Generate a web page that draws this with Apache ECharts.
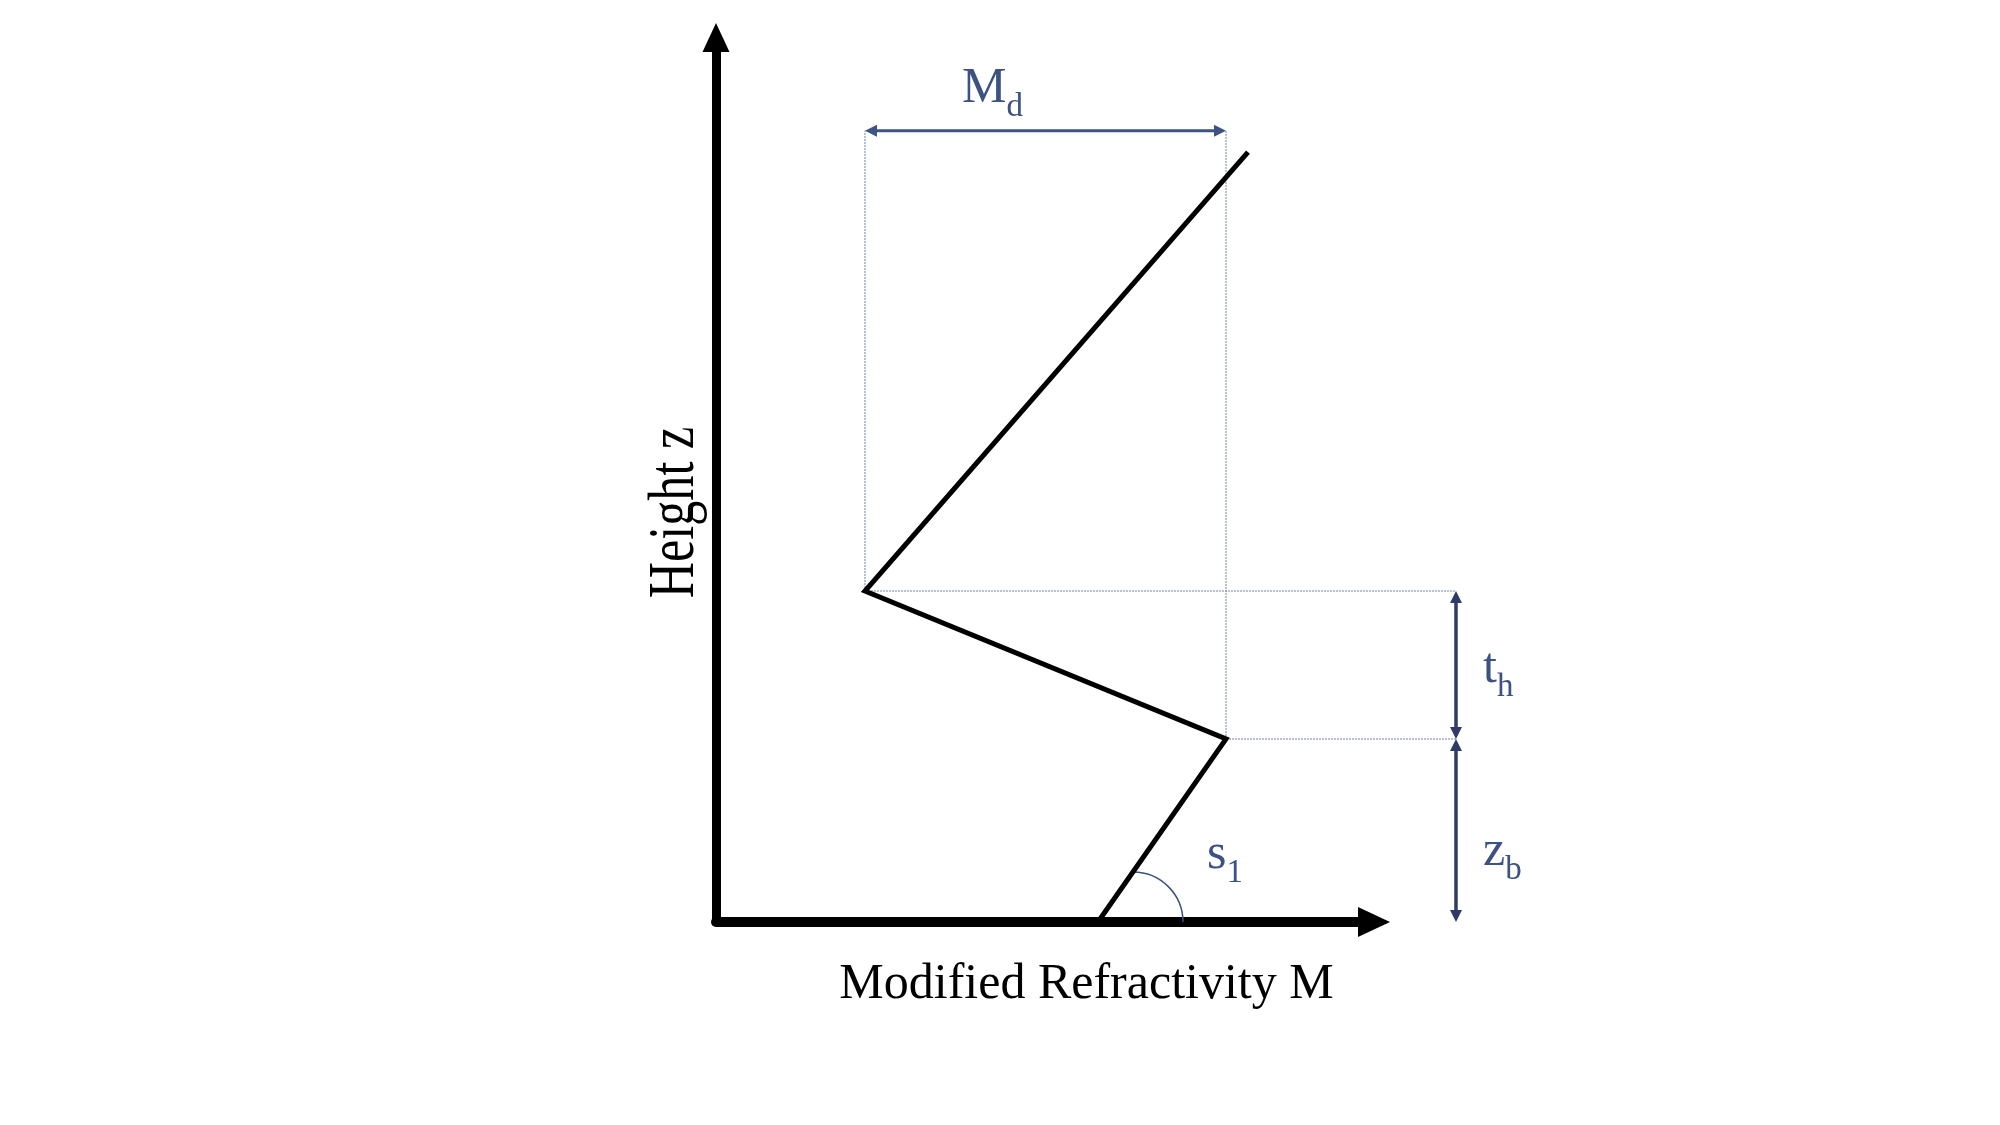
<!DOCTYPE html>
<html>
<head>
<meta charset="utf-8">
<script src="https://cdn.jsdelivr.net/npm/echarts@6/dist/echarts.min.js"></script>
<style>
html,body{margin:0;padding:0;background:#fff;}
#c{width:2000px;height:1125px;}
</style>
</head>
<body>
<div id="c"></div>
<script>
// ---- data (arbitrary units: M on x, z on y, both axes 0..100) ----
const profileM = [58.05, 77.51, 22.64, 80.85];
const profileZ = [0, 20.69, 37.42, 87.05];

// dimension arrows: [x1, y1, x2, y2]
const arrowMd = [22.64, 89.46, 77.51, 89.46];
const arrowTh = [112.46, 37.42, 112.46, 20.69];
const arrowZb = [112.46, 20.69, 112.46, 0];

// dotted guide lines: [x1, y1, x2, y2]
const guideLines = [
  [22.64, 37.42, 22.64, 89.46],
  [77.51, 20.69, 77.51, 89.46],
  [22.64, 37.42, 112.46, 37.42],
  [77.51, 20.69, 112.46, 20.69]
];

// angle arc s1: [centerM, centerZ, radiusM]
const arcS1 = [63.37, 0, 7.6];

// annotation labels (baseline-left anchor)
const labelMain = ['M', 't', 'z', 's'];
const labelSub  = ['d', 'h', 'b', '1'];
const labelM    = [37.39, 116.57, 116.57, 74.62];
const labelZ    = [92.71, 27.13, 6.44, 6.11];

const xTitle = 'Modified Refractivity M';
const yTitle = 'Height z';

const SERIF = '"Liberation Serif", "Times New Roman", serif';
const LABEL_COLOR = '#3C5283';

const chart = echarts.init(document.getElementById('c'), null, {renderer: 'canvas'});

function arrowRender(color, width) {
  return function (params, api) {
    const p1 = api.coord([api.value(0), api.value(1)]);
    const p2 = api.coord([api.value(2), api.value(3)]);
    const dx = p2[0] - p1[0], dy = p2[1] - p1[1];
    const len = Math.sqrt(dx * dx + dy * dy);
    const ux = dx / len, uy = dy / len;
    const L = 12, H = 6;
    function head(tip, dirx, diry) {
      const bx = tip[0] - dirx * L, by = tip[1] - diry * L;
      return {
        type: 'polygon',
        shape: {points: [tip, [bx - diry * H, by + dirx * H], [bx + diry * H, by - dirx * H]]},
        style: {fill: color}
      };
    }
    return {
      type: 'group',
      children: [
        {type: 'line', shape: {x1: p1[0] + ux * 6, y1: p1[1] + uy * 6, x2: p2[0] - ux * 6, y2: p2[1] - uy * 6},
         style: {stroke: color, lineWidth: width}},
        head(p1, -ux, -uy),
        head(p2, ux, uy)
      ]
    };
  };
}

const option = {
  backgroundColor: '#ffffff',
  animation: false,
  grid: {left: 716, top: 37.5, width: 658, height: 884.5, containLabel: false},
  xAxis: {
    type: 'value', min: 0, max: 100,
    axisLine: {show: true, onZero: false, symbol: ['none', 'triangle'], symbolSize: [30, 32],
      lineStyle: {color: '#000', width: 10}},
    axisTick: {show: false}, axisLabel: {show: false}, splitLine: {show: false}
  },
  yAxis: {
    type: 'value', min: 0, max: 100,
    axisLine: {show: true, onZero: false, symbol: ['none', 'triangle'], symbolSize: [27, 29],
      lineStyle: {color: '#000', width: 9}},
    axisTick: {show: false}, axisLabel: {show: false}, splitLine: {show: false}
  },
  graphic: [
    {type: 'text', x: 1086.5, y: 985, z: 100,
     style: {text: xTitle, font: '50px ' + SERIF, fill: '#000', align: 'center', verticalAlign: 'middle'}},
    {type: 'text', x: 675.5, y: 512.5, rotation: Math.PI / 2, scaleX: 0.76, z: 100,
     style: {text: yTitle, font: '66px ' + SERIF, fill: '#000', align: 'center', verticalAlign: 'middle'}}
  ],
  series: [
    {
      type: 'custom', name: 'guides', coordinateSystem: 'cartesian2d', clip: false, z: 1,
      data: guideLines,
      renderItem: function (params, api) {
        const p1 = api.coord([api.value(0), api.value(1)]);
        const p2 = api.coord([api.value(2), api.value(3)]);
        return {type: 'line', shape: {x1: p1[0], y1: p1[1], x2: p2[0], y2: p2[1]},
          style: {stroke: '#7384A9', lineWidth: 1, lineDash: [2, 1]}};
      }
    },
    {
      type: 'custom', name: 'arc', coordinateSystem: 'cartesian2d', clip: false, z: 2,
      data: [arcS1],
      renderItem: function (params, api) {
        const c = api.coord([api.value(0), api.value(1)]);
        const r = api.size([api.value(2), 0])[0];
        return {type: 'arc', shape: {cx: c[0], cy: c[1], r: r, startAngle: -Math.PI / 2, endAngle: 0, clockwise: true},
          style: {stroke: '#3C5283', fill: null, lineWidth: 1.5}};
      }
    },
    {
      type: 'line', name: 'profile', clip: false, z: 5,
      data: profileM.map((m, i) => [m, profileZ[i]]),
      symbol: 'none',
      lineStyle: {color: '#000', width: 5, join: 'miter', cap: 'butt'}
    },
    {
      type: 'custom', name: 'Md', coordinateSystem: 'cartesian2d', clip: false, z: 6,
      data: [arrowMd], renderItem: arrowRender('#3D5384', 3)
    },
    {
      type: 'custom', name: 'heights', coordinateSystem: 'cartesian2d', clip: false, z: 6,
      data: [arrowTh, arrowZb], renderItem: arrowRender('#2E3B66', 3.5)
    },
    {
      type: 'custom', name: 'labels', coordinateSystem: 'cartesian2d', clip: false, z: 7,
      data: labelM.map((m, i) => [m, labelZ[i]]),
      renderItem: function (params, api) {
        const p = api.coord([api.value(0), api.value(1)]);
        const i = params.dataIndex;
        return {
          type: 'text', x: p[0], y: p[1] - 13,
          style: {
            text: '{m|' + labelMain[i] + '}{s|' + labelSub[i] + '}',
            align: 'left', verticalAlign: 'middle',
            rich: {
              m: {fontFamily: SERIF, fontSize: 50, fill: LABEL_COLOR, color: LABEL_COLOR},
              s: {fontFamily: SERIF, fontSize: 33, fill: LABEL_COLOR, color: LABEL_COLOR, padding: [36, 0, 0, 0]}
            }
          }
        };
      }
    }
  ]
};
chart.setOption(option);
</script>
</body>
</html>
